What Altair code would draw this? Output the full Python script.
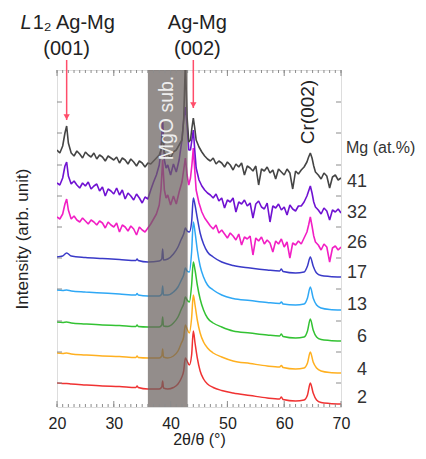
import altair as alt
import pandas as pd

# ---------------- data ----------------
SERIES = ["2", "4", "6", "13", "17", "26", "32", "41"]
COLORS = ["#f03232", "#ffb020", "#33c233", "#2fa8f5", "#3a3ac8", "#f21fc4", "#7012d2", "#454545"]
LABEL_Y = [9, 37, 70, 102, 134, 164, 194, 225]

X_SMOOTH = [20, 21.0, 21.7, 22.5, 25, 28, 31, 33.9, 34.1, 34.3,
            36, 38.0, 38.45, 38.6, 38.75, 39.5, 40.5, 41.3, 41.9, 42.3,
            42.6, 42.9, 43.3, 43.7, 44.0, 44.3, 44.7, 45.2, 45.8, 46.5,
            47.5, 49, 51, 54, 57, 59.2, 59.5, 59.8, 62, 63.5,
            64.1, 64.6, 65.1, 65.7, 66.5, 68, 70]

Y_2 = [24, 23.5, 23.5, 23, 22, 21, 20.5, 19.5, 21, 19.5,
       18, 18, 20, 26, 19, 18, 19.5, 23, 29, 36,
       49, 46, 42, 52, 76, 64, 49, 36, 28, 23,
       19.5, 16.5, 14, 11.5, 9, 8, 10, 7.5, 6, 7,
       12, 24, 14, 7, 4.5, 3.5, 3]
Y_4 = [54, 53.5, 54, 53, 52, 51, 50.5, 49.5, 51, 49.5,
       49, 49, 51, 58, 50, 49, 51, 56, 64, 70,
       82, 78, 74, 89, 112, 102, 87, 74, 65, 59,
       54, 50, 46, 43.5, 41, 40, 41.5, 39.5, 38, 39,
       44, 55, 45, 39, 36, 34.5, 34]
Y_6 = [85, 84.5, 85, 84, 83, 82, 81.5, 80.5, 82, 80.5,
       80, 80, 82, 90, 81, 80.5, 84, 90, 98, 103,
       110, 107, 105, 122, 145, 137, 122, 108, 97, 89,
       84, 80, 76, 74, 72, 71, 73, 70.5, 69, 70,
       76, 88, 77, 70, 67.5, 66.5, 66]
Y_13 = [117, 116.5, 117, 116, 115, 114, 113, 112, 113.5, 112,
        111, 111, 113, 121, 112, 112, 115, 120, 127, 132,
        139, 136, 135, 155, 185, 175, 157, 141, 130, 122,
        117, 112, 108.5, 106.5, 104.5, 103.5, 105, 103, 102, 103,
        109, 120, 109, 102, 99, 97.5, 97]
Y_17 = [150, 151, 154, 151, 149.5, 148.5, 147.5, 146.5, 148, 146.5,
        145, 146, 148, 158, 147, 148, 153, 160, 168, 173,
        179, 176, 175, 185, 209, 202, 189, 174, 163, 155,
        150, 145, 141.5, 139, 137, 136, 138, 135.5, 134, 135,
        141, 150, 141, 134, 131.5, 130.5, 130]

X_NOISY = [20.0, 20.5, 21.0,
           21.4, 21.7, 22.0,
           22.5, 23.0, 23.5, 24.0, 24.5, 25.0, 25.5, 26.0, 26.5, 27.0,
           27.5, 28.0, 28.5, 29.0, 29.5, 30.0, 30.5, 31.0, 31.5, 32.0,
           32.5, 33.0, 33.5, 34.0, 34.5, 35.0, 35.5, 36.0, 36.5, 37.0,
           37.5, 38.0,
           38.3, 38.6, 38.9, 39.2,
           39.5, 40.0, 40.5, 41.0, 41.5, 42.0,
           42.3, 42.6, 42.9, 43.2,
           43.5, 43.75, 44.0, 44.25, 44.5,
           45.0, 45.5, 46.0, 46.5, 47.0, 47.5, 48.0, 48.5, 49.0, 49.5,
           50.0, 50.5, 51.0, 51.5, 52.0, 52.5, 53.0, 53.5, 54.0, 54.5,
           55.0, 55.5, 56.0, 56.5, 57.0, 57.5, 58.0, 58.5, 59.0, 59.5,
           60.0, 60.5, 61.0, 61.5, 62.0, 62.5, 63.0, 63.5, 64.0,
           64.3, 64.6, 64.9, 65.2,
           65.5, 66.0, 66.5, 67.0, 67.5, 68.0, 68.5, 69.0, 69.5, 70.0]

Y_26 = [190, 188, 193,
        203, 208, 197,
        188, 191, 187, 185, 189, 186, 183, 187, 185, 182,
        186, 184, 179, 185, 182, 180, 184, 175, 182, 180,
        176, 181, 178, 172, 180, 177, 175, 179, 183, 188,
        193, 202,
        217, 247, 217, 209,
        212, 202, 211, 203, 215, 225,
        237, 249, 232, 222,
        229, 242, 259, 237, 217,
        204, 195, 189, 185, 181, 178, 182, 174, 177, 173,
        169, 174, 171, 167, 173, 162, 170, 168, 171, 152,
        169, 166, 170, 163, 167, 164, 155, 166, 163, 168,
        160, 165, 149, 164, 162, 166, 163, 169, 175,
        182, 190, 181, 171,
        165, 162, 157, 163, 160, 145, 159, 161, 157, 160]
Y_32 = [224, 222, 229,
        241, 245, 231,
        223, 226, 222, 219, 224, 221, 225, 218, 221, 223,
        216, 220, 211, 218, 216, 213, 219, 212, 217, 208,
        214, 211, 207, 213, 209, 204, 210, 208, 217, 225,
        232, 242,
        257, 287, 247, 239,
        242, 232, 243, 235, 247, 267,
        287, 300, 282, 257,
        257, 267, 277, 257, 239,
        227, 221, 217, 214, 212, 209, 213, 206, 209, 199,
        207, 205, 209, 195, 205, 203, 207, 201, 204, 189,
        203, 206, 200, 198, 204, 185, 201, 199, 203, 197,
        200, 192, 202, 198, 196, 201, 201, 205, 211,
        216, 221, 214, 205,
        200, 197, 193, 199, 196, 187, 197, 195, 198, 194]
Y_41 = [257, 254, 261,
        274, 281, 264,
        254, 251, 256, 253, 249, 255, 252, 250, 254, 248,
        252, 250, 246, 251, 249, 247, 250, 244, 249, 247,
        243, 248, 245, 241, 246, 244, 240, 244, 243, 246,
        249, 252,
        257, 272, 255, 251,
        253, 249, 255, 257, 262, 267,
        287, 345, 290, 265,
        267, 279, 289, 279, 267,
        260, 255, 251, 248, 246, 249, 243, 246, 244, 240,
        245, 242, 237, 243, 240, 244, 232, 241, 239, 236,
        241, 222, 238, 236, 240, 234, 237, 228, 238, 235,
        232, 238, 234, 218, 236, 233, 237, 240, 245,
        250, 254, 249, 241,
        235, 232, 228, 234, 231, 219, 230, 232, 227, 229]

CURVES = {"2": (X_SMOOTH, Y_2), "4": (X_SMOOTH, Y_4), "6": (X_SMOOTH, Y_6),
          "13": (X_SMOOTH, Y_13), "17": (X_SMOOTH, Y_17),
          "26": (X_NOISY, Y_26), "32": (X_NOISY, Y_32), "41": (X_NOISY, Y_41)}
for k, (xs, ys) in CURVES.items():
    if len(xs) != len(ys):
        raise ValueError(f"length mismatch {k}: {len(xs)} vs {len(ys)}")

X_LABELS = [20, 30, 40, 50, 60, 70]
X_MINOR = list(range(20, 71))
Y_TICKS = [24, 55, 86, 118, 149, 180, 211, 242, 274, 305]

MGO_BAND = pd.DataFrame({"x": [36.0], "x2": [43.0]})
ARROWS = pd.DataFrame({"x": [21.7, 44.0], "v": [347, 347], "v2": [287, 299], "tip": [287, 299]})

W, H = 284, 337
XS = alt.Scale(domain=[20, 70], nice=False, zero=False)
YS = alt.Scale(domain=[0, 337], nice=False, zero=False)
FONT = "Liberation Sans"
XAX = alt.Axis(values=X_LABELS, title="2θ/θ (°)", ticks=False, domain=False, grid=False,
               labelPadding=8, titlePadding=0, labelFontSize=16, titleFontSize=16,
               labelFlush=False, labelColor="#222222", titleColor="#222222",
               titleFontWeight="normal", labelFont=FONT, titleFont=FONT)
YAX = alt.Axis(labels=False, ticks=False, domain=False, grid=False,
               title="Intensity (arb. unit)", titlePadding=26, titleFontSize=17,
               titleColor="#222222", titleFontWeight="normal", titleFont=FONT)


def X(field="x"):
    return alt.X(f"{field}:Q", scale=XS, axis=XAX)


def Y(field="v"):
    return alt.Y(f"{field}:Q", scale=YS, axis=YAX)


layers = []
for name, color in zip(SERIES, COLORS):
    xs, ys = CURVES[name]
    df = pd.DataFrame({"x": xs, "v": ys})
    noisy = name in ("26", "32", "41")
    layers.append(alt.Chart(df).mark_line(color=color, strokeWidth=1.6 if noisy else 1.5, clip=True,
                                          strokeJoin="bevel",
                                          interpolate="linear" if noisy else "monotone")
                  .encode(x=X(), y=Y()))

# MgO substrate band (drawn over curves, translucent)
layers.append(alt.Chart(MGO_BAND).mark_rect(color="#6a615e", opacity=0.72)
              .encode(x=X(), x2="x2:Q", y=alt.value(0), y2=alt.value(H)))
layers.append(alt.Chart(pd.DataFrame({"x": [39.4], "v": [289], "t": ["MgO sub."]}))
              .mark_text(angle=270, fontSize=19.5, color="#eeeeee", font=FONT,
                         align="center", baseline="middle")
              .encode(x=X(), y=Y(), text="t:N"))

# inward ticks
minor = pd.DataFrame({"x": X_MINOR})
major = pd.DataFrame({"x": X_LABELS})
yt = pd.DataFrame({"v": Y_TICKS})
tick_color = "#8c8c8c"
layers += [
    alt.Chart(minor).mark_rule(color=tick_color, strokeWidth=1).encode(x=X(), y=alt.value(H), y2=alt.value(H - 3)),
    alt.Chart(minor).mark_rule(color=tick_color, strokeWidth=1).encode(x=X(), y=alt.value(0), y2=alt.value(3)),
    alt.Chart(major).mark_rule(color=tick_color, strokeWidth=1).encode(x=X(), y=alt.value(H), y2=alt.value(H - 6)),
    alt.Chart(major).mark_rule(color=tick_color, strokeWidth=1).encode(x=X(), y=alt.value(0), y2=alt.value(6)),
    alt.Chart(yt).mark_rule(color=tick_color, strokeWidth=1).encode(y=Y(), x=alt.value(0), x2=alt.value(5)),
    alt.Chart(yt).mark_rule(color=tick_color, strokeWidth=1).encode(y=Y(), x=alt.value(W), x2=alt.value(W - 5)),
]

# arrows
arrow_color = "#ff4d6a"
layers.append(alt.Chart(ARROWS).mark_rule(color=arrow_color, strokeWidth=1.5)
              .encode(x=X(), y=Y(), y2="v2:Q"))
layers.append(alt.Chart(ARROWS).mark_point(shape="triangle-down", filled=True, size=40,
                                           color=arrow_color, opacity=1, yOffset=-3)
              .encode(x=X(), y=Y("tip")))

# peak annotations
ann_left = pd.DataFrame({"x": [21.7], "v": [378], "t": ["1₂ Ag-Mg"]})
ann_l = pd.DataFrame({"x": [21.7], "v": [378], "t": ["L"]})
ann_c1 = pd.DataFrame({"x": [21.7], "v": [352.5], "t": ["(001)"]})
ann_c2 = pd.DataFrame({"x": [44.0, 44.0], "v": [378, 352.5], "t": ["Ag-Mg", "(002)"]})
layers.append(alt.Chart(ann_left).mark_text(fontSize=20, font=FONT, color="#222222",
                                            align="left", baseline="alphabetic", dx=-34)
              .encode(x=X(), y=Y(), text="t:N"))
layers.append(alt.Chart(ann_l).mark_text(fontSize=20, font=FONT, fontStyle="italic", color="#222222",
                                         align="right", baseline="alphabetic", dx=-35)
              .encode(x=X(), y=Y(), text="t:N"))
layers.append(alt.Chart(ann_c1).mark_text(fontSize=20, font=FONT, color="#222222",
                                          align="center", baseline="alphabetic", dx=0)
              .encode(x=X(), y=Y(), text="t:N"))
layers.append(alt.Chart(ann_c2).mark_text(fontSize=20, font=FONT, color="#222222",
                                          align="center", baseline="alphabetic", dx=4)
              .encode(x=X(), y=Y(), text="t:N"))

layers.append(alt.Chart(pd.DataFrame({"x": [64.2], "v": [295], "t": ["Cr(002)"]}))
              .mark_text(angle=270, fontSize=19, font=FONT, color="#222222",
                         align="center", baseline="middle")
              .encode(x=X(), y=Y(), text="t:N"))

# composition labels on the right
labs = pd.DataFrame({"x": [70] * len(SERIES), "v": LABEL_Y, "t": SERIES})
layers.append(alt.Chart(labs).mark_text(fontSize=18, font=FONT, color="#333333",
                                        align="right", baseline="middle", dx=26)
              .encode(x=X(), y=Y(), text="t:N"))
layers.append(alt.Chart(pd.DataFrame({"x": [70], "v": [259], "t": ["Mg (at.%)"]}))
              .mark_text(fontSize=16, font=FONT, color="#333333",
                         align="left", baseline="middle", dx=5)
              .encode(x=X(), y=Y(), text="t:N"))

chart = (alt.layer(*layers)
         .properties(width=W, height=H, autosize=alt.AutoSizeParams(type="none"),
                     padding={"left": 49, "top": 62, "right": 77, "bottom": 44})
         .configure_view(stroke="#8c8c8c", strokeWidth=1.5)
         .configure(font=FONT))

chart.save("out.html", embed_options={"renderer": "svg", "actions": False})
